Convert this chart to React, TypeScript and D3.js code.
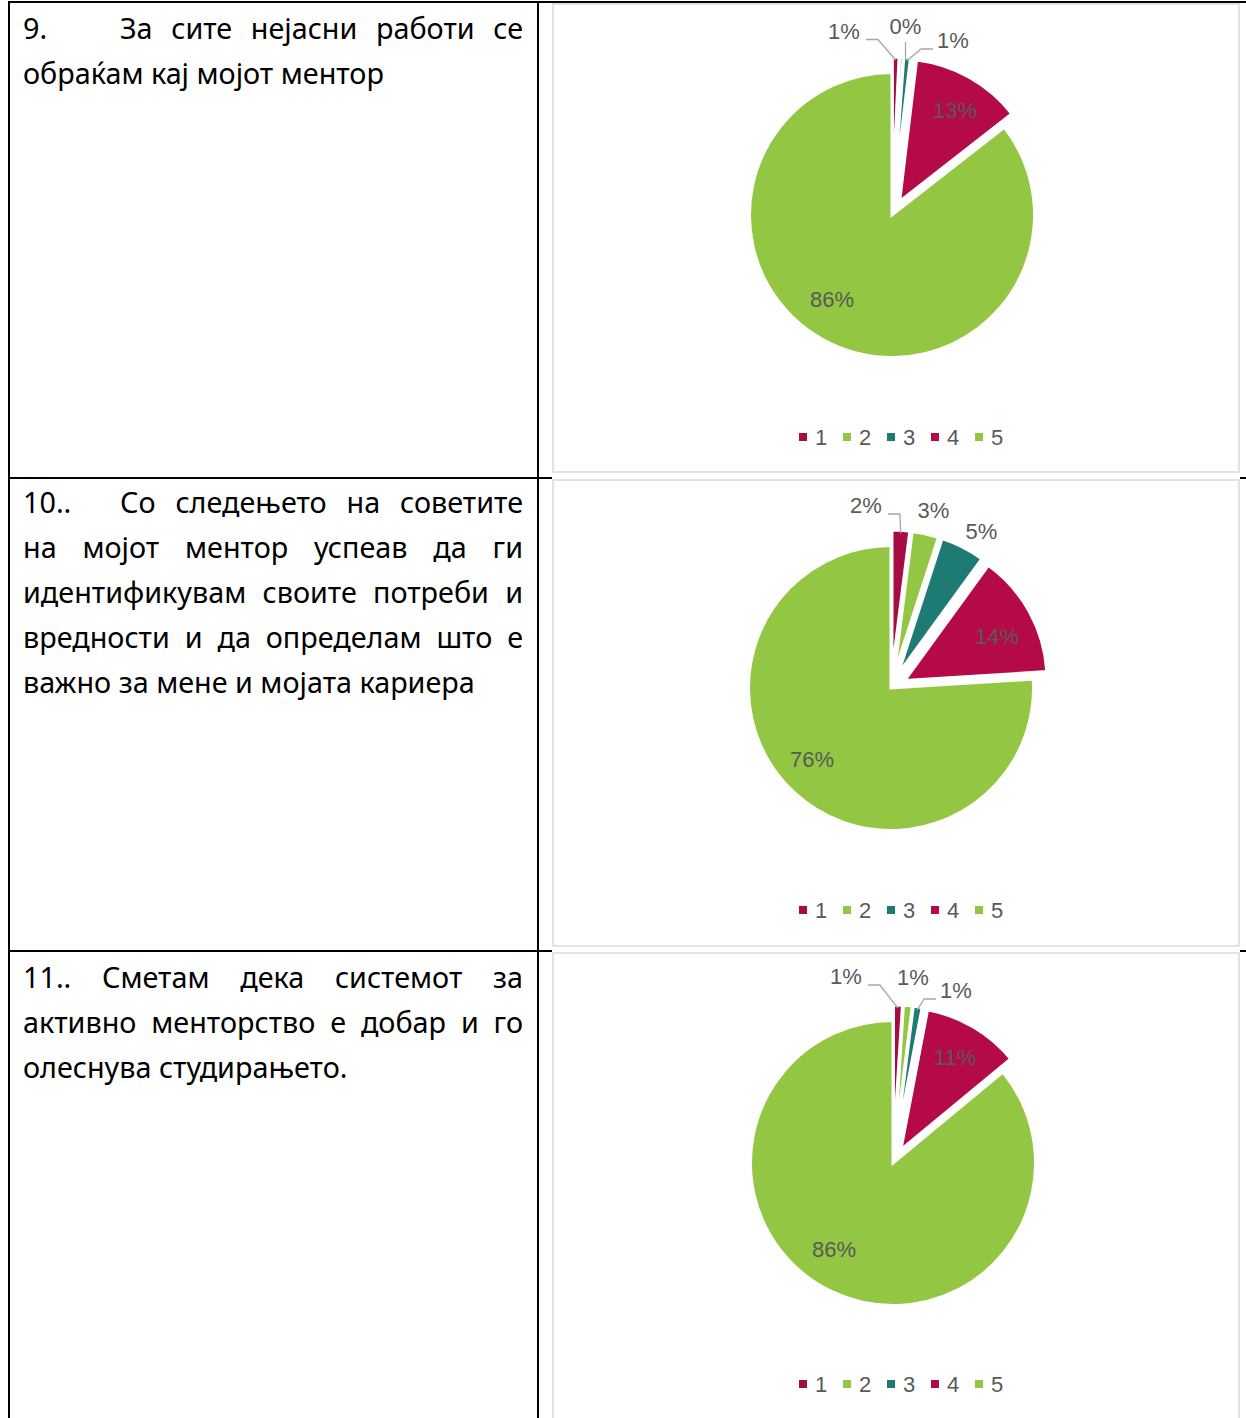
import React, { useEffect, useRef } from 'react';
import * as d3 from 'd3';

const W = 1246;
const H = 1418;

// ---------- data ----------
const categories = ['1', '2', '3', '4', '5'];
const q9Values = [0.75, 0.4, 0.75, 12.55, 85.55];
const q10Values = [2, 3, 5, 14, 76];
const q11Values = [1, 1, 1, 11, 86];
const sliceColors = ['#A60B43', '#93C642', '#1E7B73', '#B40A48', '#93C642'];
const exploded = [true, true, true, true, false];

const q9Text = ['9.\tЗа сите нејасни работи се', 'обраќам кај мојот ментор'];
const q10Text = [
  '10..\tСо следењето на советите',
  'на мојот ментор успеав да ги',
  'идентификувам своите потреби и',
  'вредности и да определам што е',
  'важно за мене и мојата кариера',
];
const q11Text = ['11.. Сметам дека системот за', 'активно менторство е добар и го', 'олеснува студирањето.'];

// ---------- layout ----------
type LabelSpec = [number, number, string | null];
const ROWS = [
  {
    text: q9Text, baseline: 39, values: q9Values,
    bg: [552, 3, 1240, 475], box: [553, 4, 1239, 472],
    cx: 892, cy: 215, legendY: 437,
    labels: [[-48, -184.5, 'left'], [13.5, -189, 'down'], [61, -175, 'right'], [63, -105.5, null], [-60, 84, null]] as LabelSpec[],
  },
  {
    text: q10Text, baseline: 513, values: q10Values,
    bg: [552, 475, 1240, 949], box: [553, 480, 1239, 946],
    cx: 891, cy: 688, legendY: 910,
    labels: [[-25, -183, 'left'], [42.5, -178.5, null], [90.5, -157, null], [106, -52, null], [-79, 71, null]] as LabelSpec[],
  },
  {
    text: q11Text, baseline: 988, values: q11Values,
    bg: [552, 949, 1240, 1430], box: [553, 953, 1239, 1440],
    cx: 893, cy: 1163, legendY: 1384,
    labels: [[-47, -187, 'left'], [20, -186, null], [63, -173, 'right'], [62, -106, null], [-59, 86, null]] as LabelSpec[],
  },
];

const R = 142.5;
const EXPLODE = 15.5;
const SLICE_BORDER = 3;
const LINE_GAP = 45;
const TEXT_X = 23;
const TAB_X = 120;
const TEXT_RIGHT = 523;
const LABEL_FONT = '"Liberation Sans", Arial, sans-serif';
const GRAY_TEXT = '#595959';

export default function App() {
  const ref = useRef<SVGSVGElement>(null);

  useEffect(() => {
    const svg = d3.select(ref.current as SVGSVGElement);
    svg.selectAll('*').remove();

    svg.append('rect').attr('width', W).attr('height', H).attr('fill', '#fff');

    // table lines
    const tl = svg.append('g').attr('stroke', '#000').attr('stroke-width', 2);
    const tableLines = [
      [8, 2, W, 2],
      [9, 1, 9, H],
      [538, 1, 538, H],
      [8, 478, W, 478],
      [8, 951, W, 951],
    ];
    tableLines.forEach(([x1, y1, x2, y2]) =>
      tl.append('line').attr('x1', x1).attr('y1', y1).attr('x2', x2).attr('y2', y2)
    );

    // left texts
    const textG = svg.append('g').attr('font-family', '"Noto Sans", sans-serif').attr('fill', '#000');
    const probe = textG.append('text').attr('font-size', 28).text(q9Text[1]);
    const w28 = (probe.node() as SVGTextElement).getComputedTextLength();
    probe.remove();
    const fs = (28 * 361) / w28;
    textG.attr('font-size', fs);

    const justify = (sel: any, str: string, target: number) => {
      const natural = (sel.node() as SVGTextElement).getComputedTextLength();
      const spaces = (str.match(/ /g) || []).length;
      if (spaces > 0) sel.style('word-spacing', `${(target - natural) / spaces}px`);
    };

    ROWS.forEach((row) => {
      row.text.forEach((line, i) => {
        const y = row.baseline + i * LINE_GAP;
        const isLast = i === row.text.length - 1;
        if (line.includes('\t')) {
          const [prefix, rest] = line.split('\t');
          textG.append('text').attr('x', TEXT_X).attr('y', y).text(prefix);
          const t = textG.append('text').attr('x', TAB_X).attr('y', y).text(rest);
          if (!isLast) justify(t, rest, TEXT_RIGHT - TAB_X);
        } else {
          const t = textG.append('text').attr('x', TEXT_X).attr('y', y).text(line);
          if (!isLast) justify(t, line, TEXT_RIGHT - TEXT_X);
        }
      });
    });

    // charts
    const pie = d3.pie<number>().sort(null).value((d) => d);
    const arc = d3.arc<d3.PieArcDatum<number>>().innerRadius(0).outerRadius(R);

    ROWS.forEach((row) => {
      const [bx1, by1, bx2, by2] = row.bg;
      svg.append('rect').attr('x', bx1).attr('y', by1).attr('width', bx2 - bx1).attr('height', by2 - by1).attr('fill', '#fff');
      const [x1, y1, x2, y2] = row.box;
      svg.append('rect').attr('x', x1).attr('y', y1).attr('width', x2 - x1).attr('height', y2 - y1)
        .attr('fill', 'none').attr('stroke', '#D9D9D9').attr('stroke-width', 1.5);

      const g = svg.append('g');
      const arcs = pie(row.values);
      const total = d3.sum(row.values);
      const dir = (a: number) => [Math.sin(a), -Math.cos(a)];

      arcs.forEach((a, i) => {
        const mid = (a.startAngle + a.endAngle) / 2;
        const off = exploded[i] ? EXPLODE : 0;
        const [dx, dy] = dir(mid);
        g.append('path')
          .attr('d', arc(a) as string)
          .attr('transform', `translate(${row.cx + off * dx},${row.cy + off * dy})`)
          .attr('fill', sliceColors[i])
          .attr('stroke', '#fff')
          .attr('stroke-width', SLICE_BORDER)
          .attr('stroke-linejoin', 'miter');
      });

      // labels + leaders
      const lg = g.append('g').attr('font-family', LABEL_FONT).attr('font-size', 22).attr('fill', GRAY_TEXT);
      const leaders = g.append('g').attr('stroke', '#A6A6A6').attr('stroke-width', 1.3).attr('fill', 'none');
      arcs.forEach((a, i) => {
        const [ldx, ldy, kind] = row.labels[i];
        const lx = row.cx + ldx;
        const ly = row.cy + ldy;
        const txt = `${Math.round((a.value / total) * 100)}%`;
        const t = lg.append('text').attr('x', lx).attr('y', ly + 8).attr('text-anchor', 'middle').text(txt);
        if (!kind) return;
        const bb = (t.node() as SVGTextElement).getBBox();
        const mid = (a.startAngle + a.endAngle) / 2;
        const off = exploded[i] ? EXPLODE : 0;
        const [dx, dy] = dir(mid);
        const ex = row.cx + (R + off - 3) * dx;
        const ey = row.cy + (R + off - 3) * dy;
        let pts: [number, number][] = [];
        if (kind === 'left') {
          const x0 = bb.x + bb.width + 6;
          const y0 = ly + 9;
          pts = [[x0, y0], [x0 + 12, y0], [ex, ey]];
        } else if (kind === 'right') {
          const x0 = bb.x - 4;
          const y0 = ly + 9;
          pts = [[x0, y0], [x0 - 12, y0], [ex, ey]];
        } else {
          pts = [[lx, ly + 16], [lx, ey]];
        }
        leaders.append('path').attr('d', d3.line()(pts) as string);
      });

      // legend
      const cxBox = (x1 + x2) / 2;
      const lx = d3.scalePoint<string>().domain(categories).range([cxBox - 97, cxBox + 79]);
      const leg = g.append('g').attr('font-family', LABEL_FONT).attr('font-size', 22).attr('fill', GRAY_TEXT);
      categories.forEach((c, i) => {
        const x = lx(c) as number;
        leg.append('rect').attr('x', x).attr('y', row.legendY - 4).attr('width', 8).attr('height', 8).attr('fill', sliceColors[i]);
        leg.append('text').attr('x', x + 16).attr('y', row.legendY + 8).text(c);
      });
    });
  }, []);

  return (
    <svg
      ref={ref}
      width={W}
      height={H}
      style={{ position: 'absolute', left: 0, top: 0, display: 'block' }}
    />
  );
}
